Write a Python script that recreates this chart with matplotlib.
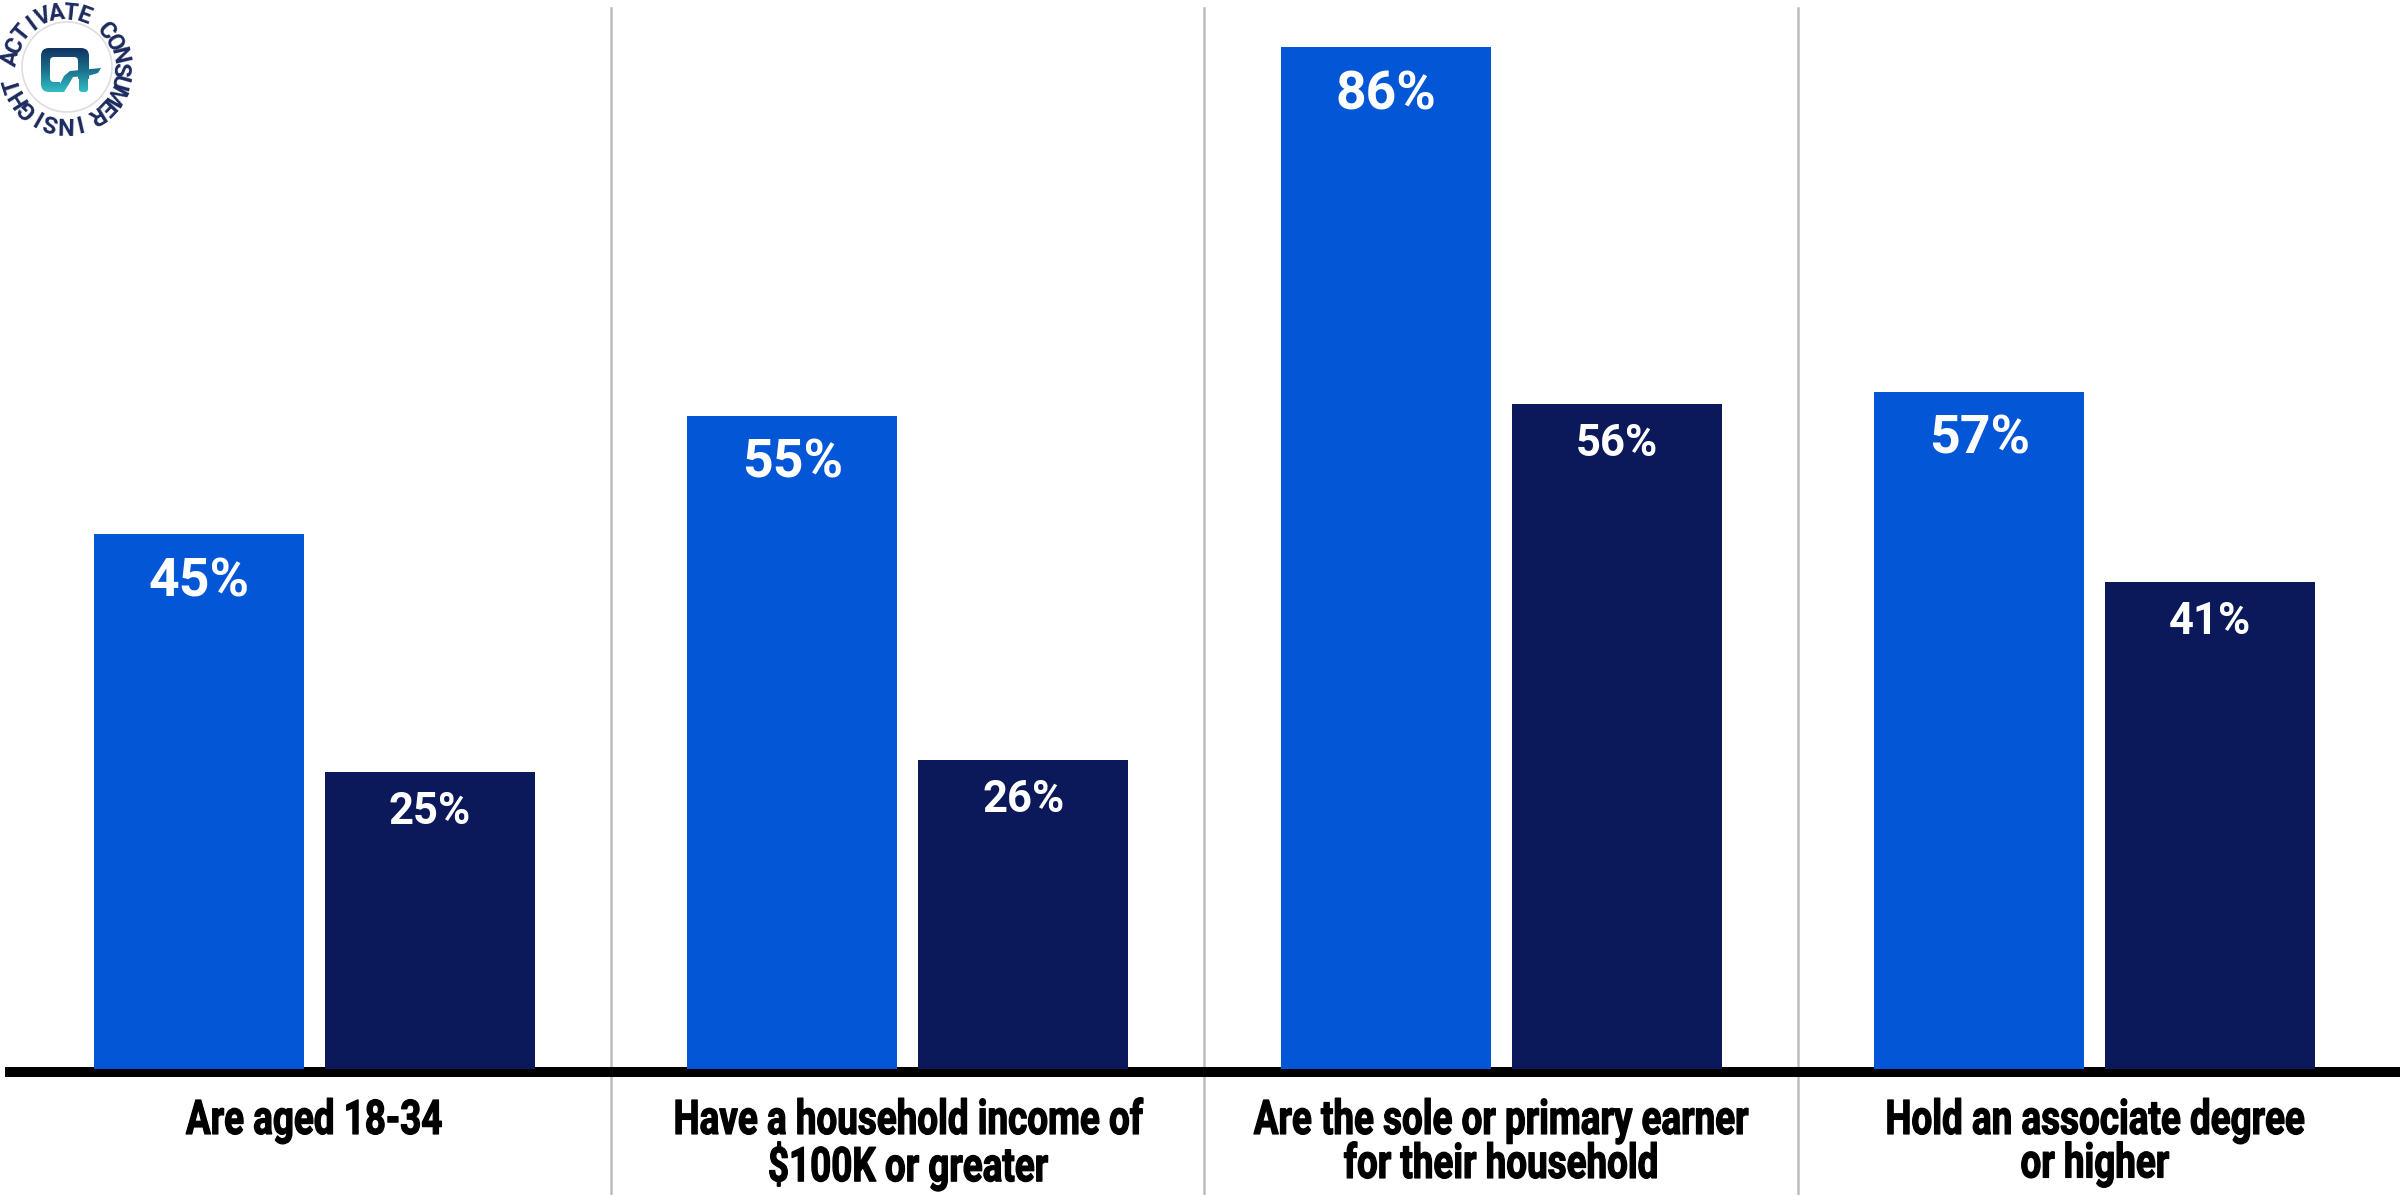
import numpy as np
import matplotlib
matplotlib.use('Agg')

from matplotlib import pyplot as plt
from matplotlib.patches     import FancyBboxPatch, Circle, Polygon
from matplotlib.colors      import LinearSegmentedColormap
from matplotlib.patheffects import AbstractPathEffect
from matplotlib.transforms  import Affine2D

# =============================================================================

categories = [
	"Are aged 18-34",
	"Have a household income of\n$100K or greater",
	"Are the sole or primary earner\nfor their household",
	"Hold an associate degree\nor higher",
]
group_a = [45, 55, 86, 57]
group_b = [25, 26, 56, 41]

logo_text = "INSIGHT ACTIVATE CONSUMER"

# =============================================================================

W, H = 2405, 1195
DPI  = 100

BLUE    = '#0356d6'
NAVY    = '#0b185a'
DIVIDER = '#bdbdbd'
INK     = '#1c2a5e'

class Squeeze(AbstractPathEffect):
	"""Narrow each text line about its own centre, with a light outline
	to keep the strokes as heavy as a condensed bold face."""
	def __init__(self, sx, weight=0.0):
		super().__init__()
		self.sx     = sx
		self.weight = weight

	def draw_path(self, renderer, gc, tpath, affine, rgbFace=None):
		ext = tpath.get_extents()
		cx  = (ext.x0 + ext.x1) / 2
		narrow = Affine2D().translate(-cx, 0).scale(self.sx, 1).translate(cx, 0)
		gc0 = renderer.new_gc()
		gc0.copy_properties(gc)
		if self.weight > 0:
			gc0.set_linewidth(self.weight)
			gc0.set_foreground(rgbFace)
			gc0.set_joinstyle('round')
		renderer.draw_path(gc0, tpath, narrow + affine, rgbFace)
		gc0.restore()

def px_box(left, top, right, bottom):
	# figure rectangle from pixel edges measured from the top-left corner
	return [left / W, 1 - bottom / H, (right - left) / W, (bottom - top) / H]

fig = plt.figure(figsize=(W / DPI, H / DPI), dpi=DPI)
ax  = fig.add_axes(px_box(10, 8, 2395, 1072))

x     = np.arange(len(categories))
width = 0.354
shift = 0.1946

bars_a = ax.bar(x - shift, group_a, width=width, color=BLUE, zorder=3)
bars_b = ax.bar(x + shift, group_b, width=width, color=NAVY, zorder=3)

for rect, v in zip(bars_a, group_a):
	ax.annotate("%d%%" % v, (rect.get_x() + rect.get_width() / 2, v),
	            xytext=(0, -62), textcoords='offset pixels',
	            ha='center', va='baseline', color='white',
	            fontsize=38.5, fontweight='bold', family='Roboto', zorder=4)
for rect, v in zip(bars_b, group_b):
	ax.annotate("%d%%" % v, (rect.get_x() + rect.get_width() / 2, v),
	            xytext=(0, -52), textcoords='offset pixels',
	            ha='center', va='baseline', color='white',
	            fontsize=31.4, fontweight='bold', family='Roboto', zorder=4)

# category names under the baseline
for i, name in enumerate(categories):
	ax.text(i, -0.0244, name, transform=ax.get_xaxis_transform(),
	        ha='center', va='top', multialignment='center',
	        fontsize=34.4, fontweight='bold', family='Roboto',
	        linespacing=0.93, color='black',
	        path_effects=[Squeeze(0.77, weight=0.9)])

# thin separators between the groups, running down through the labels
for xv in x[:-1] + 0.5:
	ax.axvline(xv, ymin=(1072 - 1195) / 1064, ymax=1, color=DIVIDER,
	           lw=1.8, clip_on=False, zorder=1)

ax.set_xlim(-0.5126, 3.5059)
ax.set_ylim(-0.2525, 89.31)
ax.set_xticks([])
ax.set_yticks([])
for side in ['top', 'left', 'right']:
	ax.spines[side].set_visible(False)
ax.spines['bottom'].set_linewidth(7.2)
ax.spines['bottom'].set_color('black')
ax.spines['bottom'].set_zorder(2.5)

# -----------------------------------------------------------------------------
# badge in the top-left corner

lax = fig.add_axes(px_box(0, 0, 140, 140))
lax.set_facecolor('none')
lax.axis('off')

lax.add_patch(Circle((67, 67), 45, fill=False, ec='#dedede', lw=1.2))

start, stop = 283.0, -58.0
angles      = np.linspace(start, stop, len(logo_text))
for ch, th in zip(logo_text, angles):
	t = np.radians(th)
	lax.text(65 + 55 * np.cos(t), 68 - 55 * np.sin(t), ch,
	         rotation=th - 90, rotation_mode='anchor',
	         ha='center', va='center', color=INK,
	         fontsize=17, fontweight='bold', family='Roboto')

grad = np.linspace(0, 1, 256).reshape(-1, 1)
cmap = LinearSegmentedColormap.from_list('badge', ['#0f2d5c', '#1b6f8e', '#33c6c9'])

def gradient_fill(patch, z):
	lax.add_patch(patch)
	im = lax.imshow(grad, cmap=cmap, extent=(38, 104, 94, 46),
	                aspect='auto', zorder=z, interpolation='bilinear')
	im.set_clip_path(patch)

gradient_fill(FancyBboxPatch((41, 48), 48, 44, boxstyle='round,pad=0,rounding_size=8',
                             fc='none', ec='none', transform=lax.transData), 2)
lax.add_patch(FancyBboxPatch((50, 57), 28, 25, boxstyle='round,pad=0,rounding_size=4',
                             fc='white', ec='none', zorder=3))
lax.add_patch(Polygon([(60, 79), (92, 79), (92, 96), (60, 96)],
                      fc='white', ec='none', zorder=3))
gradient_fill(Polygon([(50, 92), (56, 91), (60, 84), (64, 76), (70, 71), (101, 68),
                       (98, 73), (88, 76), (73, 77), (69, 84), (64, 92)],
                      fc='none', ec='none', transform=lax.transData), 4)
gradient_fill(FancyBboxPatch((79, 71), 9, 21, boxstyle='round,pad=0,rounding_size=3',
                             fc='none', ec='none', transform=lax.transData), 4)

lax.set_xlim(0, 140)
lax.set_ylim(140, 0)

plt.savefig("out.png", dpi=DPI)
